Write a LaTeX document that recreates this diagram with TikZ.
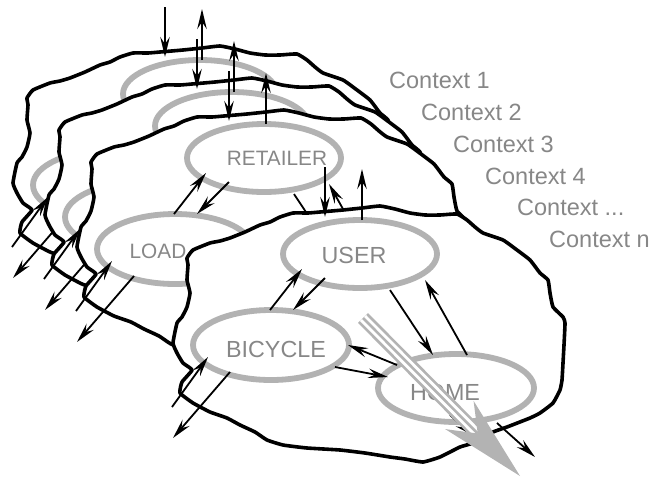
\documentclass[tikz,border=0pt]{standalone}
\usepackage{fontspec}
\setmainfont{Liberation Sans}
\usetikzlibrary{arrows.meta}
\definecolor{ellgray}{HTML}{B2B2B2}
\definecolor{txtgray}{HTML}{878787}
\definecolor{bigarrowgray}{HTML}{B3B3B3}
\tikzset{
  blobline/.style={fill=white, draw=black, line width=3.6pt, line join=round},
  ellline/.style={draw=ellgray, line width=5.8pt},
  arr/.style={draw=black, line width=1.8pt, -{Stealth[length=20pt,width=9.5pt,inset=7pt]}},
  lblsmall/.style={text=txtgray, inner sep=0pt, font=\fontsize{20.8}{24}\selectfont},
  lblbig/.style={text=txtgray, inner sep=0pt, font=\fontsize{23.3}{27}\selectfont},
  ctxlbl/.style={text=txtgray, inner sep=0pt, anchor=base west, font=\fontsize{23.5}{28}\selectfont},
}
\newcommand{\ctxlayer}[1]{%
\begin{scope}[shift={(#1,#1)}]
  \filldraw[blobline] plot[smooth cycle, tension=0.25] coordinates {(27,98) (33,90) (50,83) (60,81) (70,78) (85,72) (100,65) (110,62) (120,57) (133,53) (148,53) (160,52) (183,50) (202,48) (220,46) (235,49) (250,53) (265,55) (280,55) (297,54) (307,60) (315,67) (323,73) (343,80) (357,90) (370,100) (380,113) (388,120) (390,133) (393,147) (403,157) (405,163) (404,185) (403,203) (402,220) (400,230) (393,243) (380,253) (370,258) (347,267) (333,272) (313,283) (300,287) (280,297) (263,302) (245,299) (230,297) (205,293) (180,290) (147,288) (123,285) (107,280) (95,272) (80,265) (67,258) (50,252) (33,243) (20,233) (22,222) (32,210) (23,203) (17,193) (13,183) (17,163) (22,157) (27,147) (30,133) (27,120) (28,105)};
  \draw[ellline] (200,94) ellipse [x radius=77pt, y radius=34pt];
  \draw[ellline] (111,185) ellipse [x radius=78pt, y radius=35pt];
  \draw[ellline] (296,228) ellipse [x radius=78pt, y radius=34pt];
  \draw[arr] (110,150) -- (142,109);
  \draw[arr] (165,118) -- (133,150);
  \draw[arr] (230,130) -- (273,195);
  \draw[arr] (307,195) -- (265,120);
  \draw[arr] (237,205) -- (188,185);
  \draw[arr] (175,207) -- (228,217);
  \draw[arr] (12,247) -- (48,197);
  \draw[arr] (70,212) -- (13,278);
  \draw[arr] (337,263) -- (375,297);
  \draw[arr] (290,255) -- (314,276);
  \draw[arr] (165,7) -- (165,57);
  \draw[arr] (202,60) -- (202,9);
\end{scope}}
\begin{document}
\begin{tikzpicture}[x=1pt, y=-1pt]
\useasboundingbox (0,0) rectangle (653,477);
\ctxlayer{0}
\ctxlayer{32}
\ctxlayer{64}
\node[lblsmall, anchor=base] (retailer) at (277,165) {RETAILER};
\node[lblsmall, anchor=base] (load) at (158,258) {LOAD};
\ctxlayer{160}
\node[lblbig, anchor=base] (user) at (354,263) {USER};
\node[lblbig, anchor=base] (bicycle) at (276,357) {BICYCLE};
\node[lblbig, anchor=base] (home) at (445,400) {HOME};
% big gray arrow
\coordinate (gs) at (363,318);
\coordinate (gn) at (477.7,433.5);
\draw[bigarrowgray, line width=14pt] (gs) -- (gn);
\draw[white, line width=8.5pt] (gs) -- (gn);
\draw[bigarrowgray, line width=2.6pt] (gs) -- (gn);
\fill[bigarrowgray] (520,476) -- (473.6,400.9) -- (gn) -- (445.2,429.1) -- cycle;
% context labels
\node[ctxlbl] (c1) at (389,88) {Context 1};
\node[ctxlbl] (c2) at (421,120) {Context 2};
\node[ctxlbl] (c3) at (453,152) {Context 3};
\node[ctxlbl] (c4) at (485,184) {Context 4};
\node[ctxlbl] (c5) at (517,215) {Context ...};
\node[ctxlbl] (c6) at (549,247) {Context n};
\end{tikzpicture}
\end{document}
